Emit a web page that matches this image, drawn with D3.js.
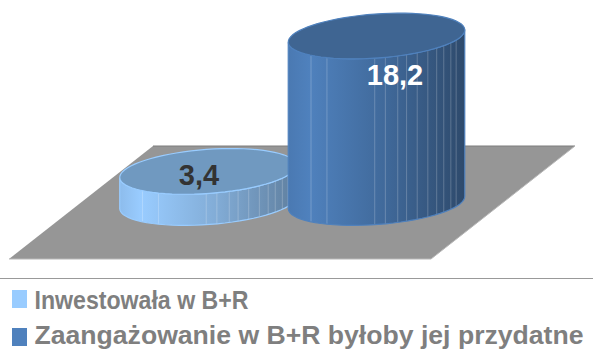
<!DOCTYPE html>
<html>
<head>
<meta charset="utf-8">
<script src="https://cdn.jsdelivr.net/npm/d3@7"></script>
<style>
  html, body { margin: 0; padding: 0; background: #fff; }
  svg { display: block; }
  text { font-family: "Liberation Sans", Arial, sans-serif; font-weight: bold; }
</style>
</head>
<body>
<div id="chart"></div>
<script>
// Chart data
const categories = ['Inwestowała w B+R', 'Zaangażowanie w B+R byłoby jej przydatne'];
const values = [3.4, 18.2];
const valueLabels = ['3,4', '18,2'];

const width = 593;
const height = 350;

// Look of each cylinder, same order as categories
const looks = [
  { side: ['#8dbcec', '#99ccff', '#82acd6', '#5f7f9f'], top: '#7099c0', edge: '#99ccff', label: '#333333', labelX: 199, labelDy: 14, legendWidth: 214, legendSize: 26, legendDy: 9.5 },
  { side: ['#4a79b2', '#4f81bd', '#40699a', '#2e4a6c'], top: '#3f6592', edge: '#4f81bd', label: '#ffffff', labelX: 395, labelDy: 49, legendWidth: 549, legendSize: 25.5, legendDy: 7 }
];

const svg = d3.select('#chart').append('svg')
  .attr('width', width)
  .attr('height', height);

const defs = svg.append('defs');

// Scales
const x = d3.scalePoint().domain(categories).range([208, 376.5]);
const y = d3.scaleLinear().domain([0, 18.2]).range([202.5, 36]);

const rx = 88.5;
const ry = 22;
const tilt = -4.2 * Math.PI / 180;

// Point on the tilted ellipse around (cx, cy)
function rimPoint(cx, cy, a) {
  const px = rx * Math.cos(a);
  const py = ry * Math.sin(a);
  return [cx + px * Math.cos(tilt) - py * Math.sin(tilt), cy + px * Math.sin(tilt) + py * Math.cos(tilt)];
}

const line = d3.line();
const angles = d3.range(0, 361, 5).map(d => d * Math.PI / 180);

// Floor
svg.append('path')
  .attr('d', line([[153, 146], [575, 146], [431, 259], [9, 259]]) + 'Z')
  .attr('fill', '#969696');
svg.append('path')
  .attr('d', line([[153, 146], [575, 146]]))
  .attr('stroke', '#7d7d7d')
  .attr('fill', 'none');
svg.append('path')
  .attr('d', line([[9, 259], [431, 259], [575, 146]]))
  .attr('stroke', '#b8b8b8')
  .attr('fill', 'none');

// Fractions across the cylinder width where the side shows a lighter seam
const seams = [0.13, 0.22, 0.49, 0.55, 0.62, 0.67, 0.73, 0.79, 0.84, 0.88, 0.92, 0.95];

categories.forEach((cat, i) => {
  const look = looks[i];
  const cx = x(cat);
  const y0 = y(0);
  const y1 = y(values[i]);
  const g = svg.append('g');

  const grad = defs.append('linearGradient')
    .attr('id', 'side' + i)
    .attr('x1', 0).attr('x2', 1).attr('y1', 0).attr('y2', 0);
  [0, 0.12, 0.55, 1].forEach((o, k) => {
    grad.append('stop').attr('offset', o).attr('stop-color', look.side[k]);
  });

  // Side wall: the lower half of the base rim, closed over the upper half of the top rim
  const lower = d3.range(0, 181, 5).map(d => rimPoint(cx, y0, d * Math.PI / 180));
  const upper = d3.range(180, -1, -5).map(d => rimPoint(cx, y1, d * Math.PI / 180));
  const wall = line(lower.concat(upper)) + 'Z';

  defs.append('clipPath').attr('id', 'wall' + i).append('path').attr('d', wall);

  g.append('path').attr('d', wall).attr('fill', `url(#side${i})`);

  const xLeft = cx - rx;
  g.append('g').attr('clip-path', `url(#wall${i})`)
    .selectAll('line')
    .data(seams)
    .join('line')
    .attr('x1', d => xLeft + d * rx * 2)
    .attr('x2', d => xLeft + d * rx * 2)
    .attr('y1', 0)
    .attr('y2', 260)
    .attr('stroke', '#ffffff')
    .attr('stroke-opacity', 0.22);

  g.append('path').attr('d', wall)
    .attr('fill', 'none')
    .attr('stroke', look.edge)
    .attr('stroke-width', 1.2);

  // Top face
  g.append('path')
    .attr('d', line(angles.map(a => rimPoint(cx, y1, a))) + 'Z')
    .attr('fill', look.top)
    .attr('stroke', look.edge)
    .attr('stroke-width', 1.2);
});

// Value labels
svg.selectAll('.value')
  .data(categories)
  .join('text')
  .attr('class', 'value')
  .attr('x', (d, i) => looks[i].labelX)
  .attr('y', (d, i) => y(values[i]) + looks[i].labelDy)
  .attr('text-anchor', 'middle')
  .attr('font-size', 29)
  .attr('fill', (d, i) => looks[i].label)
  .text((d, i) => valueLabels[i]);

// Legend
svg.append('line')
  .attr('x1', 0).attr('x2', width)
  .attr('y1', 278.5).attr('y2', 278.5)
  .attr('stroke', '#999999');

const legendY = d3.scalePoint().domain(categories).range([299, 337]);

const legend = svg.selectAll('.legend')
  .data(categories)
  .join('g')
  .attr('class', 'legend')
  .attr('transform', d => `translate(0,${legendY(d)})`);

legend.append('rect')
  .attr('x', 12).attr('y', -9)
  .attr('width', 15).attr('height', 18)
  .attr('fill', (d, i) => i === 0 ? '#99ccff' : '#4f81bd');

legend.append('text')
  .attr('x', 34.5)
  .attr('y', (d, i) => looks[i].legendDy)
  .attr('font-size', (d, i) => looks[i].legendSize)
  .attr('textLength', (d, i) => looks[i].legendWidth)
  .attr('lengthAdjust', 'spacingAndGlyphs')
  .attr('fill', '#7f7f7f')
  .text(d => d);
</script>
</body>
</html>
